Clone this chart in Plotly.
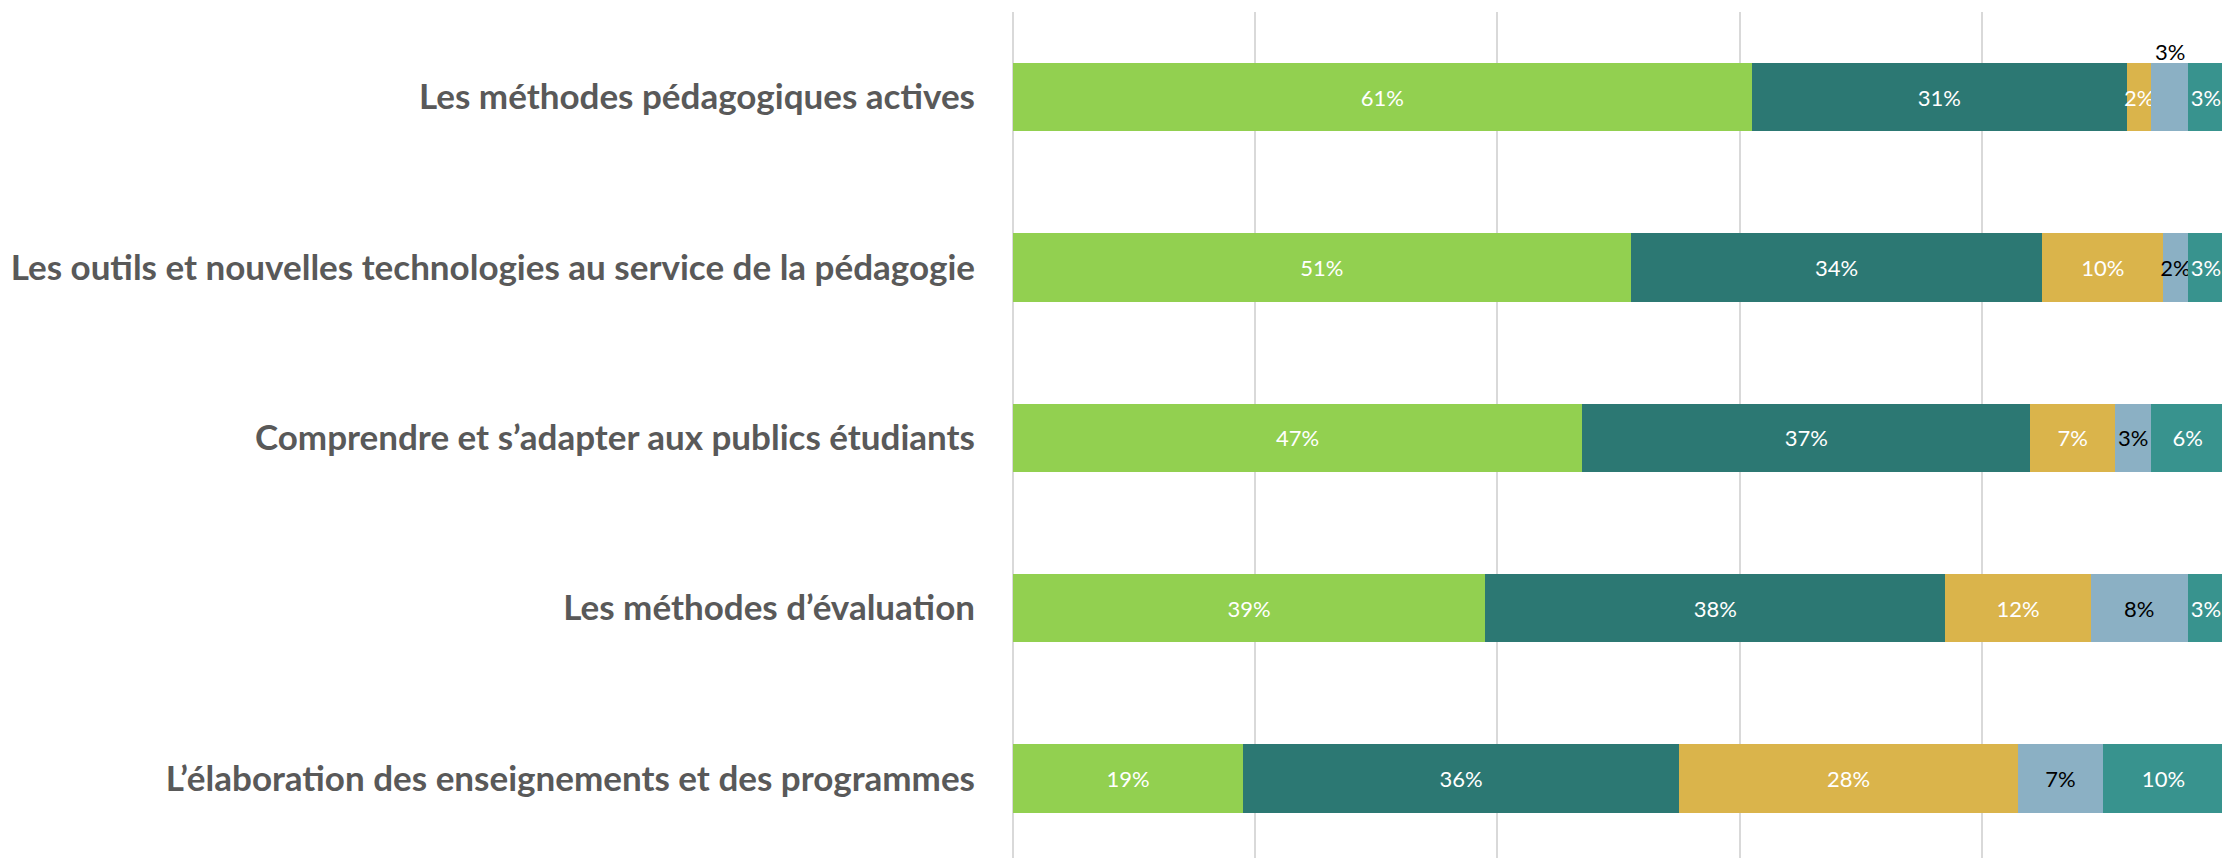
import plotly.graph_objects as go

# Categories, top to bottom
CATEGORIES = [
    "Les méthodes pédagogiques actives",
    "Les outils et nouvelles technologies au service de la pédagogie",
    "Comprendre et s’adapter aux publics étudiants",
    "Les méthodes d’évaluation",
    "L’élaboration des enseignements et des programmes",
]

# Share of answers (%) per segment, same order as CATEGORIES
SEG_1 = [61, 51, 47, 39, 19]
SEG_2 = [31, 34, 37, 38, 36]
SEG_3 = [2, 10, 7, 12, 28]
SEG_4 = [3, 2, 3, 8, 7]
SEG_5 = [3, 3, 6, 3, 10]

SERIES = [
    ("Segment 1", SEG_1, "#92D050", "white"),
    ("Segment 2", SEG_2, "#2C7873", "white"),
    ("Segment 3", SEG_3, "#DAB44B", "white"),
    ("Segment 4", SEG_4, "#8BB0C4", "black"),
    ("Segment 5", SEG_5, "#38938E", "white"),
]

# segment label drawn above the bar instead of inside (too thin)
OUTSIDE_LABEL = (0, 3)  # (row, series index)

FONT = "Lato, 'Open Sans', sans-serif"

fig = go.Figure()
for s, (name, vals, color, txt_color) in enumerate(SERIES):
    texts = [f"{v}%" for v in vals]
    if s == OUTSIDE_LABEL[1]:
        texts[OUTSIDE_LABEL[0]] = ""
    fig.add_trace(
        go.Bar(
            name=name,
            y=CATEGORIES,
            x=vals,
            orientation="h",
            marker=dict(color=color, line=dict(width=0)),
            text=texts,
            textposition="inside",
            insidetextanchor="middle",
            textangle=0,
            textfont=dict(family=FONT, size=22, color=txt_color),
            width=0.4,
            hovertemplate="%{y}<br>%{x}%<extra></extra>",
        )
    )

# label sitting on top of the thin segment
row, s = OUTSIDE_LABEL
before = sum(SERIES[k][1][row] for k in range(s))
val = SERIES[s][1][row]
fig.add_annotation(
    x=before + val / 2,
    y=CATEGORIES[row],
    text=f"{val}%",
    showarrow=False,
    yanchor="bottom",
    yshift=30,
    font=dict(family=FONT, size=22, color="black"),
)

# page body keeps its default 8px margin, so the figure is a bit smaller
fig.update_layout(
    barmode="stack",
    width=2222,
    height=850,
    margin=dict(l=1005, r=6, t=4, b=0),
    plot_bgcolor="white",
    paper_bgcolor="white",
    showlegend=False,
    uniformtext=dict(minsize=22, mode="show"),
    font=dict(family=FONT),
)
fig.update_xaxes(
    range=[0, 100],
    dtick=20,
    showgrid=True,
    gridcolor="#D9D9D9",
    gridwidth=2,
    zeroline=True,
    zerolinecolor="#D9D9D9",
    zerolinewidth=2,
    showticklabels=False,
    showline=False,
)
fig.update_yaxes(
    categoryorder="array",
    categoryarray=CATEGORIES,
    range=[4.467, -0.5],
    showgrid=False,
    showline=False,
    ticks="",
    ticklabelstandoff=37,
    tickfont=dict(family=FONT, size=35, color="#595959", weight="bold"),
)

fig.write_html("out.html")
